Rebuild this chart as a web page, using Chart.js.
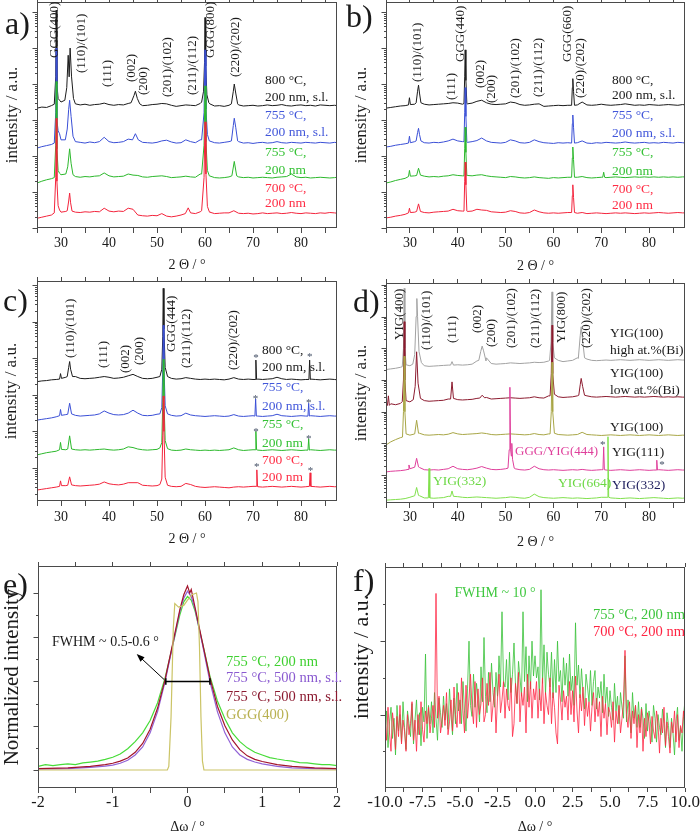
<!DOCTYPE html>
<html>
<head>
<meta charset="utf-8">
<script src="https://cdn.jsdelivr.net/npm/chart.js@4.4.1/dist/chart.umd.min.js"></script>
<style>
html, body { margin: 0; padding: 0; background: #fff; overflow: hidden; }
#wrap { position: relative; width: 700px; height: 834px; }
canvas { position: absolute; }
</style>
</head>
<body>
<div id="wrap">
  <canvas id="pa" width="350" height="276" style="left:0;top:0"></canvas>
  <canvas id="pb" width="360" height="277" style="left:340px;top:0"></canvas>
  <canvas id="pc" width="350" height="280" style="left:0;top:270px"></canvas>
  <canvas id="pd" width="360" height="283" style="left:340px;top:270px"></canvas>
  <canvas id="pe" width="350" height="290" style="left:0;top:548px"></canvas>
  <canvas id="pf" width="360" height="290" style="left:340px;top:548px"></canvas>
</div>
<script>
// ---- data ----
// XRD panels a-d: 2theta grid for the baselines, intensities in log10 decades (offset per sample)
const twoTheta = [25,26,27,28,29,30,31,32,33,34,35,36,37,38,39,40,41,42,43,44,45,46,47,48,49,50,51,52,53,54,
  55,56,57,58,59,60,61,62,63,64,65,66,67,68,69,70,71,72,73,74,75,76,77,78,79,80,81,82,83,84,85,86,87,87.5];

// a) (100) substrate
const aBlackBase = [3.33,3.36,3.35,3.40,3.45,3.50,3.60,3.60,3.45,3.42, 3.44,3.41,3.43,3.44,3.47,3.43,3.41,3.43,3.42,3.46,
  3.60,3.50,3.40,3.41,3.43,3.44,3.46,3.45,3.41,3.38, 3.40,3.42,3.41,3.40,3.46,3.55,3.45,3.39,3.40,3.38,
  3.41,3.50,3.42,3.39,3.40,3.41,3.39,3.40,3.42,3.40, 3.41,3.43,3.40,3.39,3.41,3.42,3.40,3.41,3.39,3.42, 3.41,3.40,3.41,3.40];
const aBlackPeaks = [
  [[28.6,3.44],[28.9,4.2],[29.0,6.05],[29.15,4.0],[29.4,3.6],[29.7,3.55]],
  [[30.8,3.55],[31.2,3.9],[31.5,4.8],[31.7,4.2],[31.9,5.0],[32.2,4.2],[32.6,3.6]],
  [[44.6,3.48],[45.2,3.68],[45.5,3.8],[45.9,3.6],[46.4,3.45]],
  [[59.3,3.5],[59.7,3.8],[59.9,4.6],[60.0,5.85],[60.15,4.5],[60.4,3.7],[60.8,3.48]],
  [[65.5,3.45],[65.9,3.8],[66.1,4.0],[66.4,3.75],[66.8,3.45]]];
const aBlueBase = [2.22,2.26,2.29,2.32,2.40,2.45,2.50,2.50,2.40,2.38, 2.36,2.39,2.37,2.40,2.52,2.40,2.37,2.38,2.40,2.47,
  2.55,2.50,2.38,2.37,2.36,2.38,2.42,2.44,2.39,2.36, 2.37,2.45,2.40,2.37,2.45,2.50,2.42,2.37,2.36,2.38,
  2.40,2.50,2.40,2.36,2.37,2.35,2.37,2.38,2.36,2.37, 2.40,2.37,2.36,2.38,2.37,2.36,2.38,2.37,2.36,2.38, 2.37,2.36,2.38,2.37];
const aBluePeaks = [
  [[28.6,2.36],[28.9,3.2],[29.0,5.0],[29.15,3.0],[29.4,2.7],[29.7,2.62],[30.0,2.45]],
  [[30.9,2.45],[31.3,2.75],[31.6,3.3],[31.8,3.55],[32.1,3.1],[32.5,2.55]],
  [[44.9,2.45],[45.5,2.62],[46.1,2.45]],
  [[59.3,2.45],[59.8,3.2],[60.0,4.95],[60.2,3.3],[60.5,2.6],[60.9,2.42]],
  [[65.5,2.42],[65.9,2.85],[66.1,3.05],[66.4,2.8],[66.8,2.42]]];
const aGreenBase = [1.25,1.30,1.34,1.37,1.42,1.48,1.50,1.50,1.43,1.41, 1.43,1.42,1.44,1.45,1.53,1.45,1.42,1.43,1.44,1.50,
  1.47,1.46,1.42,1.41,1.43,1.44,1.45,1.43,1.40,1.41, 1.42,1.44,1.42,1.41,1.50,1.55,1.45,1.40,1.39,1.40,
  1.42,1.50,1.42,1.40,1.41,1.39,1.40,1.41,1.40,1.39, 1.41,1.42,1.43,1.50,1.42,1.40,1.41,1.39,1.40,1.41, 1.40,1.39,1.40,1.41];
const aGreenPeaks = [
  [[28.6,1.4],[28.9,2.3],[29.0,4.07],[29.15,2.2],[29.4,1.6],[29.7,1.52]],
  [[31.0,1.5],[31.4,1.7],[31.8,2.2],[32.1,1.8],[32.5,1.48]],
  [[59.3,1.5],[59.8,2.3],[60.0,3.95],[60.2,2.4],[60.5,1.6],[60.9,1.45]],
  [[65.6,1.45],[66.1,1.85],[66.6,1.45]]];
const aRedBase = [0.27,0.30,0.33,0.36,0.42,0.44,0.46,0.46,0.44,0.43, 0.45,0.44,0.46,0.45,0.55,0.47,0.45,0.47,0.46,0.55,
  0.52,0.36,0.34,0.33,0.35,0.34,0.40,0.33,0.31,0.33, 0.36,0.45,0.42,0.40,0.45,0.50,0.44,0.40,0.41,0.42,
  0.42,0.48,0.41,0.40,0.41,0.39,0.40,0.42,0.40,0.41, 0.42,0.40,0.41,0.43,0.41,0.40,0.42,0.41,0.40,0.42, 0.41,0.43,0.42,0.41];
const aRedPeaks = [
  [[28.6,0.42],[28.9,1.4],[29.0,3.05],[29.15,1.3],[29.4,0.62],[29.7,0.5]],
  [[31.3,0.48],[31.6,0.75],[31.8,0.97],[32.0,0.7],[32.3,0.47]],
  [[55.9,0.4],[56.5,0.56],[57.0,0.42]],
  [[59.3,0.48],[59.8,1.4],[60.0,2.95],[60.2,1.5],[60.5,0.6],[60.9,0.45]]];

// b) (110) substrate
const bBlackBase = [3.33,3.35,3.37,3.39,3.40,3.45,3.44,3.50,3.44,3.42, 3.43,3.44,3.45,3.46,3.48,3.47,3.44,3.45,3.47,3.52,
  3.55,3.48,3.44,3.43,3.44,3.45,3.50,3.48,3.43,3.41, 3.42,3.44,3.45,3.38,3.39,3.40,3.41,3.40,3.41,3.40,
  3.42,3.50,3.42,3.41,3.42,3.44,3.42,3.41,3.42,3.43, 3.45,3.43,3.41,3.42,3.41,3.43,3.42,3.41,3.42,3.43, 3.42,3.41,3.43,3.42];
const bBlackPeaks = [
  [[29.7,3.42],[29.9,3.62],[30.1,3.43]],
  [[31.3,3.48],[31.6,3.8],[31.8,3.97],[32.0,3.75],[32.3,3.48]],
  [[41.3,3.46],[41.45,4.2],[41.55,4.95],[41.7,4.1],[41.9,3.46]],
  [[63.8,3.41],[63.95,3.9],[64.05,4.15],[64.2,3.8],[64.4,3.41]]];
const bBlueBase = [2.25,2.27,2.30,2.32,2.34,2.38,2.40,2.45,2.37,2.36, 2.38,2.37,2.39,2.42,2.47,2.42,2.40,2.38,2.40,2.43,
  2.50,2.42,2.38,2.37,2.36,2.38,2.45,2.42,2.37,2.36, 2.38,2.45,2.40,2.37,2.36,2.35,2.37,2.36,2.37,2.36,
  2.37,2.42,2.36,2.35,2.37,2.36,2.38,2.37,2.36,2.37, 2.39,2.37,2.36,2.37,2.38,2.36,2.37,2.36,2.38,2.37, 2.36,2.38,2.37,2.36];
const bBluePeaks = [
  [[29.7,2.36],[29.9,2.55],[30.1,2.37]],
  [[31.3,2.42],[31.6,2.65],[31.8,2.77],[32.0,2.6],[32.3,2.42]],
  [[41.3,2.4],[41.45,3.2],[41.55,3.9],[41.7,3.1],[41.9,2.4]],
  [[63.8,2.36],[63.95,2.9],[64.05,3.14],[64.2,2.8],[64.4,2.36]]];
const bGreenBase = [1.25,1.28,1.32,1.35,1.38,1.42,1.45,1.50,1.44,1.42, 1.43,1.42,1.44,1.45,1.48,1.46,1.45,1.46,1.45,1.47,
  1.48,1.45,1.43,1.42,1.41,1.40,1.43,1.42,1.40,1.39, 1.40,1.42,1.40,1.39,1.38,1.40,1.39,1.40,1.41,1.40,
  1.41,1.43,1.40,1.39,1.40,1.41,1.40,1.41,1.42,1.41, 1.40,1.41,1.42,1.41,1.42,1.41,1.42,1.41,1.42,1.41, 1.42,1.41,1.42,1.42];
const bGreenPeaks = [
  [[29.7,1.43],[29.9,1.6],[30.1,1.44]],
  [[31.4,1.46],[31.8,1.66],[32.2,1.47]],
  [[41.3,1.45],[41.45,2.2],[41.55,2.8],[41.7,2.1],[41.9,1.45]],
  [[63.8,1.41],[63.95,1.95],[64.05,2.25],[64.2,1.9],[64.4,1.41]],
  [[70.3,1.41],[70.5,1.55],[70.7,1.41]]];
const bRedBase = [0.28,0.30,0.33,0.35,0.38,0.42,0.44,0.47,0.43,0.42, 0.44,0.45,0.46,0.47,0.52,0.48,0.47,0.46,0.47,0.52,
  0.50,0.49,0.45,0.44,0.43,0.44,0.48,0.46,0.42,0.41, 0.43,0.50,0.45,0.42,0.41,0.42,0.41,0.42,0.43,0.42,
  0.41,0.43,0.40,0.41,0.42,0.41,0.40,0.41,0.42,0.41, 0.42,0.41,0.40,0.41,0.42,0.41,0.42,0.43,0.42,0.41, 0.42,0.43,0.42,0.42];
const bRedPeaks = [
  [[29.7,0.42],[29.9,0.55],[30.1,0.43]],
  [[31.4,0.46],[31.8,0.67],[32.2,0.46]],
  [[41.3,0.47],[41.45,1.3],[41.55,1.83],[41.7,1.2],[41.9,0.47]],
  [[63.8,0.43],[63.95,0.9],[64.05,1.2],[64.2,0.85],[64.4,0.43]]];

// c) (111) substrate
const cBlackBase = [3.36,3.38,3.39,3.41,3.42,3.50,3.48,3.55,3.50,3.45, 3.44,3.45,3.46,3.48,3.50,3.48,3.45,3.46,3.48,3.52,
  3.56,3.50,3.45,3.44,3.45,3.48,3.55,3.55,3.45,3.43, 3.44,3.47,3.45,3.43,3.42,3.43,3.42,3.43,3.42,3.41,
  3.43,3.47,3.43,3.42,3.43,3.42,3.43,3.42,3.43,3.44, 3.48,3.44,3.42,3.43,3.42,3.41,3.42,3.43,3.42,3.41, 3.42,3.43,3.42,3.41];
const cBlackPeaks = [
  [[29.7,3.43],[29.9,3.58],[30.1,3.45]],
  [[31.3,3.5],[31.6,3.75],[31.8,3.91],[32.0,3.7],[32.4,3.5]],
  [[50.6,3.5],[51.0,3.7],[51.2,4.6],[51.3,5.91],[51.45,4.8],[51.7,3.75],[52.2,3.5]],
  [[70.45,3.42],[70.6,3.95],[70.75,3.42]],
  [[81.65,3.42],[81.8,3.95],[81.95,3.42]]];
const cBlueBase = [2.31,2.33,2.35,2.37,2.40,2.45,2.46,2.50,2.44,2.42, 2.43,2.44,2.45,2.48,2.56,2.50,2.46,2.45,2.46,2.50,
  2.58,2.50,2.44,2.43,2.44,2.47,2.52,2.50,2.44,2.42, 2.43,2.50,2.45,2.43,2.42,2.41,2.42,2.43,2.42,2.41,
  2.42,2.46,2.42,2.41,2.42,2.43,2.42,2.41,2.42,2.43, 2.47,2.43,2.42,2.41,2.42,2.43,2.42,2.43,2.42,2.41, 2.42,2.43,2.42,2.42];
const cBluePeaks = [
  [[29.7,2.43],[29.9,2.6],[30.1,2.44]],
  [[31.4,2.47],[31.8,2.77],[32.2,2.48]],
  [[50.6,2.48],[51.0,2.65],[51.2,3.7],[51.3,4.9],[51.45,3.8],[51.7,2.7],[52.2,2.48]],
  [[70.4,2.42],[70.55,2.89],[70.7,2.42]],
  [[81.45,2.42],[81.6,2.77],[81.75,2.42]]];
const cGreenBase = [1.36,1.39,1.42,1.44,1.46,1.52,1.50,1.55,1.50,1.49, 1.50,1.49,1.50,1.51,1.52,1.50,1.49,1.50,1.52,1.58,
  1.56,1.52,1.50,1.49,1.50,1.51,1.55,1.52,1.49,1.48, 1.49,1.52,1.50,1.49,1.48,1.49,1.48,1.49,1.48,1.49,
  1.50,1.55,1.50,1.48,1.49,1.50,1.49,1.48,1.49,1.50, 1.49,1.48,1.49,1.50,1.49,1.48,1.49,1.50,1.49,1.48, 1.49,1.50,1.49,1.49];
const cGreenPeaks = [
  [[29.7,1.5],[29.9,1.7],[30.1,1.51]],
  [[31.4,1.52],[31.8,1.88],[32.2,1.52]],
  [[50.6,1.55],[51.0,1.7],[51.2,2.8],[51.3,3.97],[51.45,2.9],[51.7,1.75],[52.2,1.53]],
  [[70.45,1.5],[70.6,2.0],[70.75,1.5]],
  [[81.45,1.49],[81.6,1.8],[81.75,1.49]]];
const cRedBase = [0.40,0.42,0.44,0.46,0.48,0.52,0.52,0.56,0.52,0.51, 0.52,0.53,0.54,0.56,0.62,0.57,0.55,0.54,0.56,0.60,
  0.60,0.60,0.53,0.52,0.51,0.52,0.55,0.53,0.50,0.49, 0.50,0.58,0.55,0.50,0.48,0.47,0.48,0.49,0.48,0.47,
  0.46,0.48,0.49,0.48,0.49,0.50,0.49,0.48,0.49,0.50, 0.49,0.48,0.49,0.50,0.49,0.48,0.49,0.50,0.49,0.48, 0.49,0.50,0.49,0.49];
const cRedPeaks = [
  [[29.7,0.5],[29.9,0.65],[30.1,0.52]],
  [[31.4,0.53],[31.8,0.76],[32.2,0.54]],
  [[50.6,0.55],[51.0,0.7],[51.2,1.9],[51.3,2.97],[51.45,2.0],[51.7,0.75],[52.2,0.53]],
  [[70.65,0.5],[70.8,0.95],[70.95,0.5]],
  [[81.75,0.5],[81.9,0.87],[82.05,0.5]]];
const cStarX = [70.6, 81.8, 70.5, 81.6, 70.6, 81.6, 70.8, 82.0];
const cStarY = [4.05, 4.08, 2.95, 2.83, 2.05, 1.84, 1.07, 0.98];

// d) YIG films
const dGrayBase = [4.33,4.35,4.37,4.40,4.45,4.45,4.50,4.55,4.45,4.43, 4.44,4.45,4.46,4.47,4.55,4.48,4.47,4.48,4.50,4.60,
  4.90,4.70,4.52,4.50,4.51,4.52,4.54,4.53,4.52,4.53, 4.54,4.56,4.55,4.56,4.60,4.70,4.62,4.58,4.60,4.62,
  4.70,4.90,4.66,4.62,4.61,4.62,4.63,4.62,4.63,4.64, 4.63,4.62,4.63,4.64,4.63,4.62,4.63,4.64,4.63,4.62, 4.63,4.64,4.63,4.63];
const dGrayPeaks = [
  [[28.4,4.42],[28.65,5.0],[28.8,6.89],[28.95,5.0],[29.2,4.48]],
  [[30.6,4.5],[31.0,4.8],[31.3,6.0],[31.45,6.57],[31.6,6.0],[31.9,4.9],[32.4,4.55]],
  [[38.5,4.47],[38.8,4.58],[39.1,4.47]],
  [[44.4,4.62],[44.8,4.9],[45.1,5.07],[45.4,4.92],[45.9,4.6]],
  [[59.2,4.62],[59.5,5.2],[59.7,6.78],[59.85,5.2],[60.2,4.7]],
  [[65.2,4.68],[65.6,5.4],[65.8,5.68],[66.0,5.4],[66.5,4.7]]];
const dDarkRedBase = [3.15,3.25,3.22,3.26,3.30,3.31,3.40,3.45,3.35,3.33, 3.34,3.35,3.36,3.40,3.45,3.38,3.37,3.38,3.39,3.42,
  3.50,3.45,3.40,3.41,3.42,3.43,3.44,3.43,3.42,3.43, 3.44,3.47,3.44,3.43,3.50,3.55,3.47,3.45,3.46,3.47,
  3.50,3.65,3.50,3.47,3.46,3.47,3.48,3.47,3.46,3.47, 3.48,3.47,3.46,3.47,3.46,3.47,3.48,3.47,3.46,3.47, 3.46,3.47,3.46,3.46];
const dDarkRedPeaks = [
  [[25.3,3.2],[25.5,3.5],[25.7,3.2]],
  [[28.4,3.32],[28.65,4.0],[28.8,5.84],[28.95,4.0],[29.2,3.35]],
  [[30.7,3.38],[31.1,3.8],[31.4,4.89],[31.7,3.9],[32.2,3.42]],
  [[38.5,3.4],[38.8,3.94],[39.1,3.42]],
  [[44.6,3.43],[45.1,3.52],[45.6,3.44]],
  [[59.3,3.5],[59.55,4.2],[59.7,5.73],[59.85,4.2],[60.2,3.55]],
  [[65.3,3.52],[65.6,3.85],[65.8,4.05],[66.1,3.8],[66.5,3.52]]];
const dOliveBase = [1.95,2.05,2.12,2.18,2.22,2.26,2.30,2.32,2.27,2.26, 2.27,2.28,2.27,2.29,2.34,2.30,2.28,2.29,2.30,2.31,
  2.33,2.31,2.28,2.27,2.28,2.29,2.30,2.29,2.28,2.27, 2.28,2.31,2.28,2.27,2.30,2.34,2.28,2.27,2.26,2.27,
  2.28,2.35,2.28,2.27,2.26,2.25,2.26,2.27,2.26,2.25, 2.26,2.27,2.26,2.25,2.26,2.27,2.26,2.25,2.26,2.27, 2.26,2.25,2.26,2.26];
const dOlivePeaks = [
  [[28.45,2.2],[28.65,3.0],[28.8,4.75],[28.95,3.0],[29.2,2.3]],
  [[31.0,2.3],[31.4,2.73],[31.8,2.32]],
  [[59.3,2.3],[59.55,3.0],[59.7,4.56],[59.85,3.0],[60.2,2.32]]];
const dPinkBase = [1.10,1.12,1.13,1.14,1.16,1.20,1.25,1.24,1.17,1.16, 1.17,1.16,1.18,1.20,1.28,1.20,1.18,1.17,1.19,1.22,
  1.27,1.22,1.18,1.17,1.18,1.20,1.30,1.20,1.17,1.16, 1.18,1.28,1.20,1.17,1.16,1.17,1.16,1.15,1.16,1.17,
  1.16,1.18,1.16,1.15,1.16,1.17,1.16,1.15,1.16,1.17, 1.16,1.15,1.16,1.17,1.16,1.15,1.16,1.17,1.16,1.15, 1.16,1.17,1.16,1.16];
const dPinkPeaks = [
  [[29.6,1.18],[29.8,1.32],[30.0,1.2]],
  [[31.0,1.25],[31.4,1.53],[31.8,1.26]],
  [[50.5,1.22],[50.75,1.8],[50.9,3.77],[51.05,1.8],[51.2,1.6],[51.3,2.0],[51.45,1.5],[51.8,1.22]],
  [[70.35,1.17],[70.5,1.89],[70.65,1.17]],
  [[81.45,1.16],[81.6,1.47],[81.75,1.16]]];
const dLimeBase = [0.21,0.22,0.23,0.24,0.26,0.30,0.35,0.35,0.28,0.27, 0.27,0.28,0.29,0.33,0.40,0.32,0.30,0.29,0.30,0.31,
  0.30,0.29,0.28,0.27,0.28,0.29,0.31,0.30,0.28,0.27, 0.30,0.40,0.32,0.29,0.28,0.27,0.28,0.29,0.28,0.27,
  0.28,0.27,0.26,0.27,0.28,0.30,0.30,0.28,0.27,0.26, 0.27,0.28,0.27,0.26,0.27,0.28,0.29,0.28,0.27,0.26, 0.27,0.28,0.27,0.28];
const dLimePeaks = [
  [[31.0,0.35],[31.4,0.61],[31.8,0.36]],
  [[33.85,0.28],[34.0,1.21],[34.15,0.28]],
  [[38.5,0.33],[38.8,0.5],[39.1,0.33]],
  [[71.25,0.3],[71.4,2.21],[71.55,0.3]]];
const dStarX = [70.3, 82.7];
const dStarY = [2.0, 1.39];

// e) rocking curves, normalized
const eGreen = [[-2,0.02],[-1.9,0.03],[-1.8,0.025],[-1.7,0.03],[-1.6,0.035],[-1.5,0.03],[-1.4,0.04],[-1.3,0.045],[-1.2,0.05],
  [-1.1,0.06],[-1.0,0.072],[-0.9,0.09],[-0.8,0.12],[-0.7,0.16],[-0.6,0.21],[-0.5,0.28],[-0.4,0.38],[-0.3,0.52],[-0.2,0.7],
  [-0.1,0.88],[-0.05,0.95],[0,0.98],[0.05,0.96],[0.1,0.9],[0.2,0.72],[0.3,0.53],[0.4,0.39],[0.5,0.29],[0.6,0.21],[0.7,0.16],
  [0.8,0.125],[0.9,0.1],[1.0,0.085],[1.1,0.07],[1.2,0.062],[1.3,0.055],[1.4,0.05],[1.5,0.042],[1.6,0.04],[1.7,0.035],
  [1.8,0.03],[1.9,0.03],[2.0,0.025]];
const ePurple = [[-2,0.005],[-1.6,0.008],[-1.3,0.015],[-1.1,0.022],[-1.0,0.028],[-0.9,0.038],[-0.8,0.055],[-0.7,0.085],
  [-0.6,0.13],[-0.5,0.21],[-0.4,0.33],[-0.3,0.5],[-0.2,0.7],[-0.1,0.9],[-0.05,0.97],[0,1.01],[0.05,0.98],[0.1,0.91],
  [0.2,0.71],[0.3,0.5],[0.4,0.33],[0.5,0.21],[0.6,0.13],[0.7,0.085],[0.8,0.06],[0.9,0.045],[1.0,0.035],[1.2,0.02],
  [1.4,0.012],[1.7,0.008],[2,0.005]];
const eDarkRed = [[-2,0.008],[-1.6,0.012],[-1.3,0.02],[-1.1,0.03],[-1.0,0.038],[-0.9,0.05],[-0.8,0.068],[-0.7,0.1],
  [-0.6,0.15],[-0.5,0.23],[-0.4,0.35],[-0.3,0.51],[-0.2,0.71],[-0.1,0.91],[-0.05,0.99],[-0.02,1.02],[0,1.04],[0.03,1.0],
  [0.05,1.02],[0.1,0.92],[0.2,0.72],[0.3,0.52],[0.4,0.36],[0.5,0.25],[0.6,0.17],[0.7,0.115],[0.8,0.08],[0.9,0.06],
  [1.0,0.048],[1.2,0.03],[1.4,0.02],[1.7,0.012],[2,0.008]];
const eGGG = [[-2,0],[-0.27,0],[-0.25,0.02],[-0.22,0.3],[-0.19,0.8],[-0.17,0.94],[-0.12,0.92],[-0.05,0.93],[0,0.96],
  [0.06,0.99],[0.12,1.0],[0.14,0.95],[0.16,0.7],[0.18,0.3],[0.2,0.05],[0.22,0],[2,0]];

// f) rocking curves, 111 films (0.1 deg steps)
const fOmega = [
  -10,-9.9,-9.8,-9.7,-9.6,-9.5,-9.4,-9.3,-9.2,-9.1, -9,-8.9,-8.8,-8.7,-8.6,-8.5,-8.4,-8.3,-8.2,-8.1,
  -8,-7.9,-7.8,-7.7,-7.6,-7.5,-7.4,-7.3,-7.2,-7.1, -7,-6.9,-6.8,-6.7,-6.6,-6.5,-6.4,-6.3,-6.2,-6.1,
  -6,-5.9,-5.8,-5.7,-5.6,-5.5,-5.4,-5.3,-5.2,-5.1, -5,-4.9,-4.8,-4.7,-4.6,-4.5,-4.4,-4.3,-4.2,-4.1,
  -4,-3.9,-3.8,-3.7,-3.6,-3.5,-3.4,-3.3,-3.2,-3.1, -3,-2.9,-2.8,-2.7,-2.6,-2.5,-2.4,-2.3,-2.2,-2.1,
  -2,-1.9,-1.8,-1.7,-1.6,-1.5,-1.4,-1.3,-1.2,-1.1, -1,-0.9,-0.8,-0.7,-0.6,-0.5,-0.4,-0.3,-0.2,-0.1,
  0,0.1,0.2,0.3,0.4,0.5,0.6,0.7,0.8,0.9, 1,1.1,1.2,1.3,1.4,1.5,1.6,1.7,1.8,1.9,
  2,2.1,2.2,2.3,2.4,2.5,2.6,2.7,2.8,2.9, 3,3.1,3.2,3.3,3.4,3.5,3.6,3.7,3.8,3.9,
  4,4.1,4.2,4.3,4.4,4.5,4.6,4.7,4.8,4.9, 5,5.1,5.2,5.3,5.4,5.5,5.6,5.7,5.8,5.9,
  6,6.1,6.2,6.3,6.4,6.5,6.6,6.7,6.8,6.9, 7,7.1,7.2,7.3,7.4,7.5,7.6,7.7,7.8,7.9,
  8,8.1,8.2,8.3,8.4,8.5,8.6,8.7,8.8,8.9, 9,9.1,9.2,9.3,9.4,9.5,9.6,9.7,9.8,9.9, 10];
const fGreen = [
  30,42,22,36,44,27,38,18,45,31, 40,25,47,33,21,42,35,28,46,24,
  37,48,29,41,23,44,36,73,27,45, 35,47,30,52,38,26,49,41,33,50,
  37,46,32,54,40,29,49,35,57,42, 48,35,58,42,31,54,80,45,39,62,
  44,57,48,36,66,47,82,50,41,63, 47,68,52,44,63,50,72,55,96,58,
  55,70,48,74,52,62,79,56,46,69, 60,50,96,58,77,47,72,54,80,61,
  72,60,66,48,108,57,78,51,74,62, 55,74,49,70,52,80,58,64,47,71,
  56,68,50,73,53,61,45,90,56,67, 49,65,52,43,62,55,47,64,45,58,
  64,43,55,49,58,41,62,46,55,39, 53,44,37,57,42,50,35,52,44,38,
  72,36,48,41,30,52,38,45,33,47, 33,44,38,27,46,31,42,36,25,45,
  38,25,40,33,29,43,35,22,41,34, 22,38,30,18,36,44,26,33,20,39, 48];
const fRed = [
  38,26,44,30,20,41,33,21,39,28, 45,24,37,31,20,40,29,35,47,26,
  37,20,40,29,47,32,25,42,35,44, 30,38,45,33,106,38,50,30,36,45,
  34,52,29,36,48,31,55,40,33,52, 35,60,42,30,56,38,49,62,44,35,
  58,33,54,40,46,60,36,40,57,45, 63,36,45,55,30,49,62,41,48,58,
  38,54,45,42,60,28,35,57,46,63, 36,52,45,55,30,62,44,58,38,54,
  48,58,38,54,42,60,35,52,45,40, 60,35,52,44,30,24,56,48,37,53,
  44,50,37,58,40,53,36,61,42,30, 51,42,55,34,49,39,47,31,44,52,
  36,49,39,47,28,50,38,46,29,44, 41,33,47,25,42,35,45,30,38,47,
  75,40,33,47,27,42,35,45,22,40, 30,43,20,38,28,41,36,24,39,31,
  27,42,35,19,38,30,44,23,36,28, 19,36,30,42,25,40,22,34,30,42, 33];

// ---- drawing ----
const SERIF = "'Liberation Serif', 'Times New Roman', serif";
const INK = '#1a1a1a';
const AXIS = '#4a4a4a';

function trace(base, peaks) {
  const pts = [];
  base.forEach((v, i) => {
    const t = twoTheta[i];
    if (!peaks.some(p => t >= p[0][0] && t <= p[p.length - 1][0])) pts.push({x: t, y: v});
  });
  peaks.forEach(p => p.forEach(([x, y]) => pts.push({x, y})));
  return pts.sort((a, b) => a.x - b.x);
}
const pairs = arr => arr.map(([x, y]) => ({x, y}));
const ds = (data, color, lw) => ({data, borderColor: color, borderWidth: lw || 1, pointRadius: 0, fill: false});

function decadeTicks(min, max) {
  const major = [], minor = [];
  for (let d = Math.floor(min); d <= max; d++) {
    if (d >= min) major.push(d);
    for (let k = 2; k < 10; k++) {
      const v = d + Math.log10(k);
      if (v >= min && v <= max) minor.push(v);
    }
  }
  return {major, minor};
}

const decorCfg = {};
const decor = {
  id: 'decor',
  afterDraw(chart) {
    const o = decorCfg[chart.canvas.id];
    if (!o) return;
    const {ctx, chartArea: ca} = chart;
    const sx = chart.scales.x, sy = chart.scales.y;
    const L = Math.round(ca.left) + 0.5, T = Math.round(ca.top) + 0.5;
    const R = Math.round(ca.right) - 0.5, B = Math.round(ca.bottom) - 0.5;
    const line = (x1, y1, x2, y2) => { ctx.beginPath(); ctx.moveTo(x1, y1); ctx.lineTo(x2, y2); ctx.stroke(); };
    ctx.save();
    ctx.strokeStyle = AXIS; ctx.lineWidth = 1;
    ctx.strokeRect(L, T, R - L, B - T);
    o.yMajor.forEach(v => { const py = Math.round(sy.getPixelForValue(v)) + 0.5; line(L - 5, py, L, py); });
    o.yMinor.forEach(v => { const py = Math.round(sy.getPixelForValue(v)) + 0.5; line(L - 2.5, py, L, py); });

    ctx.strokeStyle = '#000'; ctx.fillStyle = '#000'; ctx.lineWidth = 1.5;
    (o.bars || []).forEach(b => {
      const y = sy.getPixelForValue(b.y), x1 = sx.getPixelForValue(b.x1), x2 = sx.getPixelForValue(b.x2);
      const c = Math.abs(sy.getPixelForValue(b.y + b.cap) - y);
      line(x1, y, x2, y); line(x1, y - c, x1, y + c); line(x2, y - c, x2, y + c);
    });
    ctx.lineWidth = 1;
    (o.arrows || []).forEach(a => {
      const x1 = sx.getPixelForValue(a.x1), y1 = sy.getPixelForValue(a.y1);
      const x2 = sx.getPixelForValue(a.x2), y2 = sy.getPixelForValue(a.y2);
      const ang = Math.atan2(y2 - y1, x2 - x1);
      line(x1, y1, x2 - 5 * Math.cos(ang), y2 - 5 * Math.sin(ang));
      ctx.beginPath();
      ctx.moveTo(x2, y2);
      ctx.lineTo(x2 - 8 * Math.cos(ang) + 3 * Math.sin(ang), y2 - 8 * Math.sin(ang) - 3 * Math.cos(ang));
      ctx.lineTo(x2 - 8 * Math.cos(ang) - 3 * Math.sin(ang), y2 - 8 * Math.sin(ang) + 3 * Math.cos(ang));
      ctx.closePath(); ctx.fill();
    });

    ctx.font = `13px ${SERIF}`; ctx.fillStyle = INK; ctx.textAlign = 'left'; ctx.textBaseline = 'middle';
    (o.vlabels || []).forEach(l => {
      ctx.save(); ctx.translate(sx.getPixelForValue(l.x), l.y); ctx.rotate(-Math.PI / 2);
      ctx.fillText(l.t, 0, 0); ctx.restore();
    });

    ctx.font = `11px ${SERIF}`; ctx.textAlign = 'center';
    (o.starX || []).forEach((x, i) => {
      ctx.fillStyle = '#445066';
      ctx.fillText('*', sx.getPixelForValue(x), sy.getPixelForValue(o.starY[i]) + 2);
    });

    (o.texts || []).forEach(t => {
      ctx.font = `${t.s || 13.5}px ${SERIF}`;
      ctx.fillStyle = t.c || INK;
      ctx.textAlign = t.a || 'left';
      ctx.textBaseline = t.b || 'middle';
      if (t.r) {
        ctx.save(); ctx.translate(t.x, t.y); ctx.rotate(-Math.PI / 2); ctx.fillText(t.t, 0, 0); ctx.restore();
      } else ctx.fillText(t.t, t.x, t.y);
    });
    ctx.restore();
  }
};

function panel(id, g, datasets, deco) {
  const cv = document.getElementById(id);
  decorCfg[id] = deco;
  const grid = len => ({display: true, drawOnChartArea: false, drawTicks: true, tickLength: len, color: AXIS, lineWidth: 1});
  return new Chart(cv, {
    type: 'line',
    data: {datasets},
    options: {
      responsive: false, animation: false, devicePixelRatio: 1,
      layout: {padding: {left: 0, top: 0, bottom: 0, right: cv.width - g.R}},
      plugins: {legend: {display: false}, tooltip: {enabled: false}},
      elements: {line: {tension: 0}},
      scales: {
        x: {
          type: 'linear', position: 'bottom', min: g.xMin, max: g.xMax,
          afterFit: s => { s.height = cv.height - g.B; },
          border: {display: false}, grid: grid(g.tl || 5),
          ticks: {stepSize: g.xStep, autoSkip: false, maxRotation: 0, includeBounds: false, padding: g.tp,
            color: INK, font: {family: SERIF, size: g.fs}, callback: g.xLab},
          title: {display: true, text: g.xTitle, color: INK, font: {family: SERIF, size: 14}, padding: {top: 0, bottom: 2.6}}
        },
        xTop: {
          axis: 'x', type: 'linear', position: 'top', min: g.xMin, max: g.xMax,
          afterFit: s => { s.height = g.T; },
          border: {display: false}, grid: grid(4),
          ticks: {display: false, stepSize: g.xStep, includeBounds: false}
        },
        y: {
          type: 'linear', position: 'left', min: g.yMin, max: g.yMax,
          afterFit: s => { s.width = g.L; },
          border: {display: false}, grid: {display: false}, ticks: {display: false},
          title: {display: !!g.yTitle, text: g.yTitle, color: INK, font: {family: SERIF, size: g.ys || 17},
            padding: {top: g.yp || 0, bottom: 0}}
        }
      }
    },
    plugins: [decor]
  });
}

const BLACK = '#1c1c1c', BLUE = '#3a4fd6', GREEN = '#2cb82c', RED = '#f3243c';
const T_BLUE = '#4257da', T_GREEN = '#35c235', T_RED = '#ff2d45';
const tenth = v => (v % 10 === 0 ? String(v) : '');
const xrd = {xMin: 25, xMax: 87.5, xStep: 5, fs: 14, xLab: tenth, xTitle: '2 \u0398 / \u00b0', yTitle: 'intensity / a.u.'};

function sampleTexts(x, ys) {
  const rows = [['800 \u00b0C,', BLACK], ['200 nm, s.l.', BLACK], ['755 \u00b0C,', T_BLUE], ['200 nm, s.l.', T_BLUE],
    ['755 \u00b0C,', T_GREEN], ['200 nm', T_GREEN], ['700 \u00b0C,', T_RED], ['200 nm', T_RED]];
  return rows.map((r, i) => ({t: r[0], c: r[1], x, y: ys[i]}));
}

// a)
const aT = decadeTicks(0, 6.28);
panel('pa', {...xrd, L: 37, R: 337, T: 2, B: 228, tp: 1.6, yMin: 0, yMax: 6.28, yp: 2.8}, [
  ds(trace(aRedBase, aRedPeaks), RED), ds(trace(aGreenBase, aGreenPeaks), GREEN),
  ds(trace(aBlueBase, aBluePeaks), BLUE), ds(trace(aBlackBase, aBlackPeaks), BLACK)
], {
  yMajor: aT.major, yMinor: aT.minor,
  vlabels: [{t: 'GGG(400)', x: 28.75, y: 58}, {t: '(110)/(101)', x: 34.3, y: 73}, {t: '(111)', x: 39.8, y: 87},
    {t: '(002)', x: 44.6, y: 82}, {t: '(200)', x: 47.1, y: 95}, {t: '(201)/(102)', x: 52.1, y: 97},
    {t: '(211)/(112)', x: 57.5, y: 95}, {t: 'GGG(800)', x: 61.2, y: 58}, {t: '(220)/(202)', x: 66.3, y: 77}],
  texts: [...sampleTexts(265, [80, 97, 115, 132, 152, 170, 188, 203]), {t: 'a)', x: 5, y: 34, s: 32, b: 'alphabetic'}]
});

// b)
panel('pb', {...xrd, L: 46, R: 345, T: 2, B: 228, tp: 1.6, yMin: 0, yMax: 6.28, yp: 11.8}, [
  ds(trace(bRedBase, bRedPeaks), RED), ds(trace(bGreenBase, bGreenPeaks), GREEN),
  ds(trace(bBlueBase, bBluePeaks), BLUE), ds(trace(bBlackBase, bBlackPeaks), BLACK)
], {
  yMajor: aT.major, yMinor: aT.minor,
  vlabels: [{t: '(110)/(101)', x: 31.5, y: 82}, {t: '(111)', x: 38.8, y: 100}, {t: 'GGG(440)', x: 40.5, y: 62},
    {t: '(002)', x: 44.7, y: 88}, {t: '(200)', x: 47.1, y: 103}, {t: '(201)/(102)', x: 52.0, y: 98},
    {t: '(211)/(112)', x: 56.8, y: 97}, {t: 'GGG(660)', x: 62.9, y: 62}, {t: '(220)/(202)', x: 65.6, y: 98}],
  texts: [...sampleTexts(272, [80, 95, 115, 133, 152, 171, 189, 205]), {t: 'b)', x: 6, y: 27, s: 32, b: 'alphabetic'}]
});

// c)
const cT = decadeTicks(0.1, 6.11);
panel('pc', {...xrd, L: 37, R: 337, T: 11, B: 231, tp: 2.6, yMin: 0.1, yMax: 6.11, yp: 1.8}, [
  ds(trace(cRedBase, cRedPeaks), RED), ds(trace(cGreenBase, cGreenPeaks), GREEN),
  ds(trace(cBlueBase, cBluePeaks), BLUE), ds(trace(cBlackBase, cBlackPeaks), BLACK)
], {
  yMajor: cT.major, yMinor: cT.minor, starX: cStarX, starY: cStarY,
  vlabels: [{t: '(110)/(101)', x: 31.9, y: 88}, {t: '(111)', x: 38.8, y: 98}, {t: '(002)', x: 43.5, y: 103},
    {t: '(200)', x: 46.3, y: 95}, {t: 'GGG(444)', x: 53.1, y: 82}, {t: '(211)/(112)', x: 56.2, y: 98},
    {t: '(220)/(202)', x: 65.9, y: 100}],
  texts: [...sampleTexts(262, [80, 97, 117, 136, 154, 173, 190, 207]), {t: 'c)', x: 3, y: 41, s: 32, b: 'alphabetic'}]
});

// d)
const GRAY = '#a2a2a2', DRED = '#8c1b2f', OLIVE = '#a8a646', PINK = '#df3f9b', LIME = '#80e04c', NAVY = '#1c1c5c';
const dT = decadeTicks(0.12, 7.06);
panel('pd', {...xrd, L: 46, R: 345, T: 13, B: 233, tp: 0.6, yMin: 0.12, yMax: 7.06, yp: 11.8}, [
  ds(trace(dLimeBase, dLimePeaks), LIME), ds(trace(dPinkBase, dPinkPeaks), PINK),
  ds(trace(dOliveBase, dOlivePeaks), OLIVE), ds(trace(dDarkRedBase, dDarkRedPeaks), DRED),
  ds(trace(dGrayBase, dGrayPeaks), GRAY)
], {
  yMajor: dT.major, yMinor: dT.minor, starX: dStarX, starY: dStarY,
  vlabels: [{t: 'YIG(400)', x: 27.9, y: 70}, {t: '(110)/(101)', x: 33.5, y: 80}, {t: '(111)', x: 39, y: 73},
    {t: '(002)', x: 44.2, y: 63}, {t: '(200)', x: 47, y: 77}, {t: '(201)/(102)', x: 51.3, y: 78},
    {t: '(211)/(112)', x: 56.2, y: 78}, {t: 'YIG(800)', x: 61.8, y: 73}, {t: '(220)/(202)', x: 67.0, y: 78}],
  texts: [
    {t: 'YIG(100)', x: 270, y: 63}, {t: 'high at.%(Bi)', x: 270, y: 80},
    {t: 'YIG(100)', x: 270, y: 103}, {t: 'low at.%(Bi)', x: 270, y: 120},
    {t: 'YIG(100)', x: 270, y: 157}, {t: 'YIG(111)', x: 272, y: 182},
    {t: 'YIG(332)', x: 272, y: 215, c: NAVY},
    {t: 'GGG/YIG(444)', x: 175, y: 182, c: PINK, s: 13},
    {t: 'YIG(332)', x: 93, y: 211, c: '#6cd844'}, {t: 'YIG(664)', x: 218, y: 213, c: '#6cd844'},
    {t: 'd)', x: 13, y: 42, s: 32, b: 'alphabetic'}]
});

// e)
const E_GREEN = '#47dc38', E_PURPLE = '#9263d6', E_DRED = '#a3142c', E_OLIVE = '#cbc466';
panel('pe', {L: 38, R: 337, T: 18, B: 240, xMin: -2, xMax: 2, xStep: 0.5, fs: 16, tp: 0.4,
  xLab: v => (Number.isInteger(v) ? String(v) : ''), xTitle: '\u0394\u03c9 / \u00b0',
  yMin: -0.1017, yMax: 1.1525, yTitle: 'Normalized intensity', ys: 21, yp: 0}, [
  ds(pairs(eGGG), E_OLIVE, 1.2), ds(pairs(eDarkRed), E_DRED, 1.2),
  ds(pairs(ePurple), E_PURPLE, 1.2), ds(pairs(eGreen), E_GREEN, 1.2)
], {
  yMajor: [0, 0.25, 0.5, 0.75, 1], yMinor: [0.125, 0.375, 0.625, 0.875],
  bars: [{x1: -0.29, x2: 0.30, y: 0.5, cap: 0.018}],
  arrows: [{x1: -0.31, y1: 0.51, x2: -0.68, y2: 0.655}],
  texts: [
    {t: 'FWHM ~ 0.5-0.6 \u00b0', x: 52, y: 94, s: 14},
    {t: '755 \u00b0C, 200 nm', x: 226, y: 114, s: 14.5, c: '#3fd030'},
    {t: '755 \u00b0C, 500 nm, s.l.', x: 226, y: 130, s: 14.5, c: '#8a5ad0'},
    {t: '755 \u00b0C, 500 nm, s.l.', x: 226, y: 149, s: 14.5, c: '#8b1a30'},
    {t: 'GGG(400)', x: 226, y: 167, s: 14.5, c: '#b8b050'},
    {t: 'e)', x: 3, y: 47, s: 32, b: 'alphabetic'}]
});

// f)
const F_GREEN = '#38c238', F_RED = '#ff2442';
panel('pf', {L: 45, R: 345, T: 19, B: 240, xMin: -10, xMax: 10, xStep: 1.25, fs: 17, tp: 0, tl: 4,
  xLab: v => (Math.abs(v % 2.5) < 1e-9 ? v.toFixed(1) : ''), xTitle: '\u0394\u03c9 / \u00b0',
  yMin: 0, yMax: 120.4}, [
  ds(fRed.map((v, i) => ({x: fOmega[i], y: v})), F_RED, 0.8),
  ds(fGreen.map((v, i) => ({x: fOmega[i], y: v})), F_GREEN, 0.8)
], {
  yMajor: [40, 80], yMinor: [20, 60, 100],
  texts: [
    {t: 'intensity / a.u.', x: 22, y: 109, s: 22, a: 'center', r: true},
    {t: 'FWHM ~ 10 \u00b0', x: 155, y: 45, s: 14, a: 'center', c: '#40c840'},
    {t: '755 \u00b0C, 200 nm', x: 253, y: 67, s: 14.5, c: '#3cc43c'},
    {t: '700 \u00b0C, 200 nm', x: 253, y: 84, s: 14.5, c: F_RED},
    {t: 'f)', x: 13, y: 43, s: 32, b: 'alphabetic'}]
});
</script>
</body>
</html>
